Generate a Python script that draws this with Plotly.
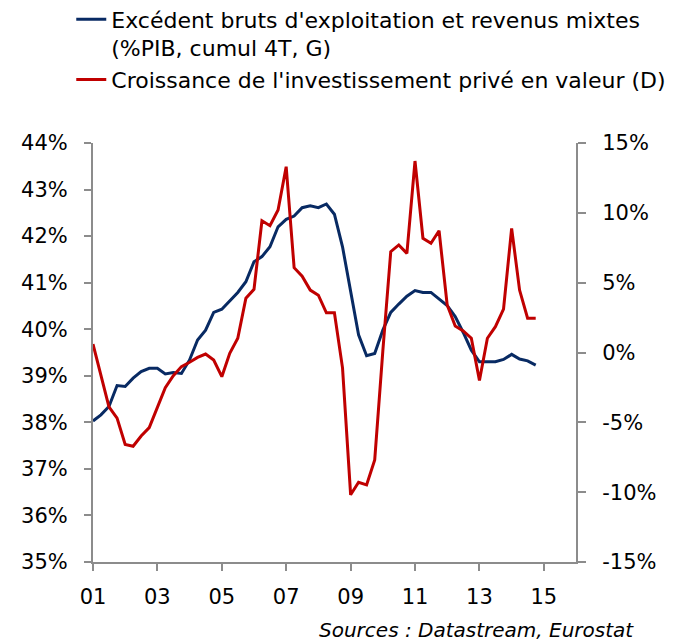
import plotly.graph_objects as go
import pandas as pd

# Quarterly dates 2001Q1 .. 2014Q4
quarters = pd.date_range("2001-01-01", "2014-10-01", freq="QS").strftime("%Y-%m-%d").tolist()

# Excédent brut d'exploitation et revenus mixtes (%PIB, cumul 4T) - left axis
ebe = [38.03, 38.16, 38.34, 38.79, 38.77, 38.95, 39.09, 39.16, 39.16, 39.04,
       39.07, 39.05, 39.34, 39.77, 39.98, 40.36, 40.43, 40.61, 40.79, 41.02,
       41.45, 41.56, 41.77, 42.20, 42.36, 42.43, 42.61, 42.65, 42.61, 42.69,
       42.47, 41.77, 40.84, 39.88, 39.43, 39.48, 39.98, 40.36, 40.54, 40.71,
       40.83, 40.79, 40.79, 40.66, 40.51, 40.27, 39.93, 39.55, 39.30, 39.30,
       39.30, 39.35, 39.46, 39.36, 39.32, 39.23]

# Croissance de l'investissement privé en valeur (%) - right axis
invest = [0.60, -1.69, -3.89, -4.70, -6.59, -6.71, -5.98, -5.38, -3.88, -2.52,
          -1.66, -1.01, -0.70, -0.35, -0.11, -0.54, -1.73, -0.06, 1.02, 3.88,
          4.52, 9.43, 9.08, 10.20, 13.30, 6.07, 5.46, 4.47, 4.10, 2.84,
          2.84, -1.10, -10.19, -9.29, -9.48, -7.69, 0.10, 7.22, 7.70, 7.10,
          13.71, 8.18, 7.82, 8.72, 3.40, 1.90, 1.54, 1.02, -2.01, 1.02,
          1.85, 3.11, 8.89, 4.47, 2.45, 2.45]

# Right axis tick values and labels
right_ticks = [-15, -10, -5, 0, 5, 10, 15]
right_labels = ["-15%", "-10%", "-5%", "0%", "5%", "10%", "15%"]

names = ["Excédent bruts d'exploitation et revenus mixtes<br>(%PIB, cumul 4T, G)",
         "Croissance de l'investissement privé en valeur (D)"]

FONT = "DejaVu Sans"
AXC = "#8c8c8c"

fig = go.Figure()
fig.add_trace(go.Scatter(x=quarters, y=ebe, name=names[0], mode="lines",
                         line=dict(color="#082a63", width=3)))
fig.add_trace(go.Scatter(x=quarters, y=invest, name=names[1], mode="lines",
                         line=dict(color="#c00000", width=3), yaxis="y2"))

fig.update_layout(
    width=674, height=644,
    margin=dict(l=93, r=98, t=143, b=82, autoexpand=False),
    paper_bgcolor="white", plot_bgcolor="white",
    font=dict(family=FONT, size=21, color="black"),
    showlegend=True,
    legend=dict(x=-0.045, y=1.345, xanchor="left", yanchor="top",
                font=dict(size=22), valign="top", tracegroupgap=0,
                bgcolor="rgba(0,0,0,0)"),
    xaxis=dict(type="date", range=["2001-01-01", "2016-01-01"],
               tick0="2001-01-01", dtick="M24", tickformat="%y",
               showline=True, linecolor=AXC, linewidth=2,
               ticks="outside", ticklen=7, tickwidth=2, tickcolor=AXC,
               showgrid=False, zeroline=False, ticklabelstandoff=8),
    yaxis=dict(range=[35, 44], dtick=1, ticksuffix="%",
               showline=True, linecolor=AXC, linewidth=2,
               ticks="outside", ticklen=7, tickwidth=2, tickcolor=AXC,
               showgrid=False, zeroline=False, ticklabelstandoff=12),
    yaxis2=dict(range=[-15, 15], tickvals=right_ticks, ticktext=right_labels,
                overlaying="y", side="right", showline=True, linecolor=AXC,
                linewidth=2, ticks="outside", ticklen=8, tickwidth=2,
                tickcolor=AXC, showgrid=False, zeroline=False,
                ticklabelstandoff=12),
    annotations=[dict(text="<i>Sources : Datastream, Eurostat</i>",
                      xref="paper", yref="paper", x=1.124, y=-0.162,
                      xanchor="right", yanchor="middle", showarrow=False,
                      font=dict(size=20))],
)

fig.write_html("out.html", config={"displayModeBar": False},
               post_script="document.body.style.margin='0';document.body.style.overflow='hidden';")
